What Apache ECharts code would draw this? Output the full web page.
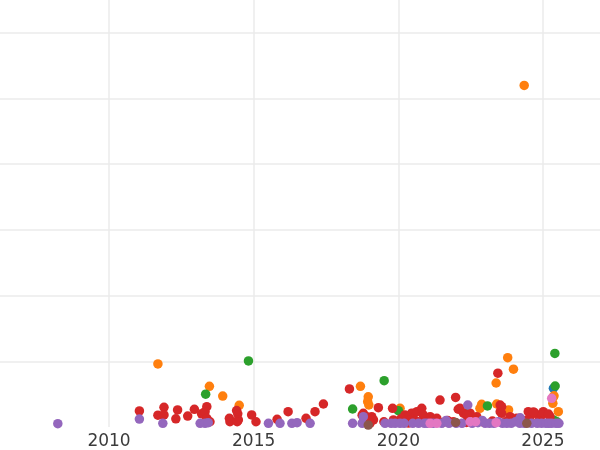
<!DOCTYPE html>
<html>
<head>
<meta charset="utf-8">
<script src="https://cdn.jsdelivr.net/npm/echarts@6/dist/echarts.min.js"></script>
<style>html,body{margin:0;padding:0;background:#fff}#c{width:600px;height:450px}</style>
</head>
<body>
<div id="c"></div>
<script>
// x: year (decimal), y: value (gridline step = 100)
const xTicks = [2010, 2015, 2020, 2025];
const xRange = [2006.232, 2026.970];
const yRange = [0, 650];
const blue = [[2025.36, 59]];
const orange = [
  [2011.69, 96], [2013.47, 62], [2013.93, 47], [2014.50, 33], [2018.69, 62], [2018.96, 46],
  [2018.94, 38.5], [2018.98, 33.5], [2020.06, 28.5], [2022.88, 34.5], [2022.82, 28.5],
  [2023.38, 67], [2023.78, 105.5], [2023.98, 88], [2024.35, 520], [2023.81, 26],
  [2023.40, 35], [2025.38, 47.5], [2025.34, 36], [2025.53, 23.3], [2025.36, 46]
];
const green = [
  [2013.34, 50], [2014.82, 100.5], [2018.42, 27.4], [2019.51, 70.5], [2020.00, 24.8],
  [2023.08, 32], [2025.41, 112], [2025.42, 62.4], [2022.36, 21], [2025.48, 8], [2025.36, 10.7]
];
const red = [
  [2011.05, 24.4], [2011.69, 18], [2011.90, 30], [2011.90, 18.3], [2012.37, 26], [2012.31, 12.5],
  [2012.72, 16.7], [2012.95, 26.9], [2013.38, 31], [2013.20, 20], [2013.32, 23.3], [2013.38, 13.2],
  [2013.49, 8], [2014.41, 25], [2014.45, 20], [2014.16, 13.2], [2014.18, 8], [2014.47, 10.7],
  [2014.43, 8], [2014.93, 18.3], [2015.08, 8], [2015.81, 11.7], [2016.19, 23.3], [2016.81, 13.2],
  [2017.12, 23.3], [2017.41, 35], [2018.31, 58],
  [2018.79, 20.9], [2018.75, 18], [2018.91, 15.7], [2019.08, 15.7], [2019.14, 10.7], [2018.79, 8],
  [2019.02, 5.6], [2019.31, 29.4], [2018.85, 13],
  [2019.80, 28.5], [2019.83, 10.7], [2020.06, 8], [2020.23, 18.3], [2020.29, 15.7], [2020.46, 21],
  [2020.52, 13.2], [2020.64, 23.3], [2020.81, 28.5], [2020.86, 18.3], [2020.40, 10], [2020.69, 8],
  [2021.10, 15.7], [2021.33, 13.2], [2021.44, 41], [2021.98, 45], [2022.07, 27], [2022.13, 28.5],
  [2022.25, 21], [2022.48, 21], [2022.71, 15.7], [2022.36, 18], [2023.44, 82], [2023.52, 33.5],
  [2023.52, 23.3], [2023.57, 31], [2023.57, 20.9], [2023.86, 15.7], [2024.09, 13.2], [2024.49, 23.3],
  [2024.55, 15.7], [2024.73, 20.9], [2025.01, 23.3], [2024.96, 18.3], [2025.24, 15.7], [2025.19, 19.8],
  [2024.67, 23], [2024.40, 10], [2023.70, 8], [2022.90, 8], [2021.70, 10], [2021.90, 8], [2020.95, 8],
  [2020.10, 13], [2019.50, 8], [2020.35, 6], [2021.55, 7], [2022.35, 7], [2023.25, 9], [2024.85, 9]
];
const purple = [
  [2008.23, 5], [2011.05, 12], [2011.86, 5.6], [2013.15, 5.6], [2013.32, 5.6], [2013.43, 6.5],
  [2015.51, 5.6], [2015.91, 5.6], [2016.32, 5.6], [2016.50, 6.5], [2016.95, 5.6], [2018.42, 5.6],
  [2018.75, 5.6], [2018.79, 15.7], [2019.54, 5.6], [2019.75, 5.6], [2019.89, 5.6], [2020.06, 5.6],
  [2020.20, 5.6], [2020.50, 5.6], [2020.70, 5.6], [2020.90, 5.6], [2021.00, 5.6], [2021.20, 5.6],
  [2021.50, 5.6], [2021.65, 10], [2021.75, 5.6], [2022.00, 5.6], [2022.20, 5.6], [2022.40, 33.5],
  [2022.55, 5.6], [2022.75, 6.5], [2022.90, 10], [2023.00, 5.6], [2023.15, 5.6], [2023.30, 5.6],
  [2023.45, 8], [2023.60, 5.6], [2023.75, 5.6], [2023.90, 5.6], [2024.05, 8], [2024.21, 14],
  [2024.20, 5.6], [2024.35, 5.6], [2024.60, 5.6], [2024.80, 5.6], [2024.95, 5.6], [2025.10, 5.6],
  [2025.20, 5.6], [2025.30, 5.6], [2025.45, 5.6], [2025.55, 5.6]
];
const brown = [[2018.96, 3], [2021.98, 7], [2024.44, 5.6]];
const pink = [[2021.10, 5.6], [2021.33, 5.6], [2022.48, 8], [2022.67, 8], [2023.38, 6.5], [2025.30, 43.7]];

const seriesList = [
  ['blue', blue, '#1f77b4'], ['orange', orange, '#ff7f0e'], ['green', green, '#2ca02c'],
  ['red', red, '#d62728'], ['purple', purple, '#9467bd'], ['brown', brown, '#8c564b'],
  ['pink', pink, '#e377c2']
];

const chart = echarts.init(document.getElementById('c'), null, {renderer: 'canvas'});
chart.setOption({
  animation: false,
  backgroundColor: '#ffffff',
  grid: {left: 0, right: 0, top: 0, bottom: 23, containLabel: false},
  xAxis: {
    type: 'value', min: xRange[0], max: xRange[1],
    axisLine: {show: false},
    axisTick: {show: false, customValues: xTicks},
    axisLabel: {customValues: xTicks, formatter: v => String(v), color: '#3b3b3b',
      fontSize: 17, fontFamily: 'DejaVu Sans', margin: 6},
    splitLine: {show: true, showMinLine: true, showMaxLine: true,
      lineStyle: {color: '#ebebeb', width: 1.5}}
  },
  yAxis: {
    type: 'value', min: yRange[0], max: yRange[1], interval: 100,
    axisLine: {show: false}, axisTick: {show: false}, axisLabel: {show: false},
    splitLine: {show: true, showMinLine: false, showMaxLine: false,
      lineStyle: {color: '#ebebeb', width: 1.5}}
  },
  series: seriesList.map(([name, data, color]) => ({
    name, type: 'scatter', data, symbolSize: 9.5, clip: true,
    itemStyle: {color, opacity: 1}
  }))
});
</script>
</body>
</html>
